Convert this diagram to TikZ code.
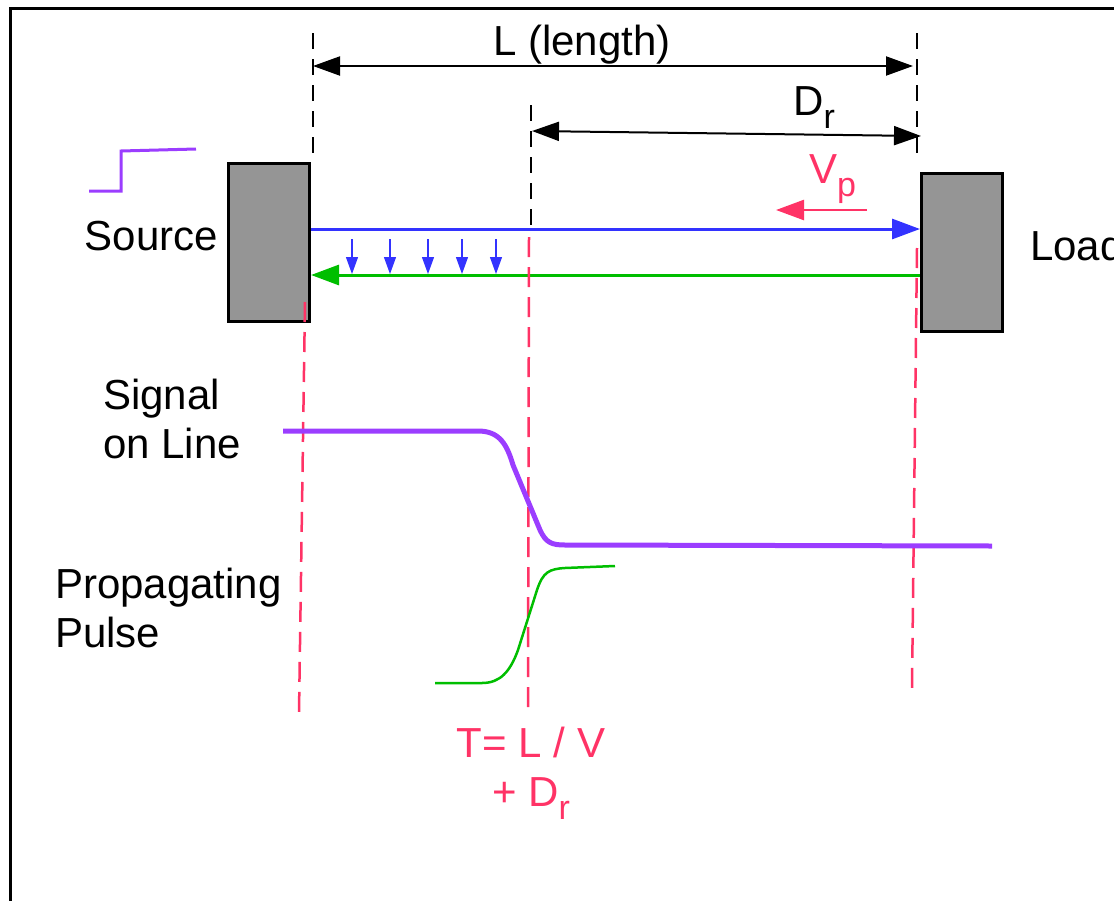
\documentclass[tikz,border=0pt]{standalone}
\usepackage{fontspec}
\setmainfont{Liberation Sans}
\usetikzlibrary{arrows.meta}

\definecolor{sigpurple}{RGB}{155,61,255}
\definecolor{tpink}{RGB}{255,51,102}
\definecolor{fwdblue}{RGB}{51,51,255}
\definecolor{retgreen}{RGB}{0,190,0}
\definecolor{boxgray}{RGB}{149,149,149}

\newcommand{\lowsub}[1]{\raisebox{-13pt}{\fontsize{34}{34}\selectfont #1}}

\tikzset{
    lbl/.style={inner sep=0pt, anchor=base west, font=\fontsize{42}{49}\selectfont},
    endbox/.style={draw=black, line width=3pt, fill=boxgray, inner sep=0pt,
        minimum width=81pt, minimum height=158pt},
    guide/.style={black, line width=2pt, dash pattern=on 16pt off 10pt},
    timeline/.style={tpink, line width=2.5pt, dash pattern=on 20pt off 10pt},
    dimarrow/.style={line width=2pt,
        {Triangle[length=27pt,width=19pt]}-{Triangle[length=27pt,width=19pt]}},
    wave/.style={-{Triangle[length=28pt,width=20pt]}, line width=3pt},
}

\begin{document}
\begin{tikzpicture}[x=1pt, y=-1pt]
    \clip (0,0) rectangle (1114,900);
    \draw[line width=3pt] (10,910) -- (10,8) -- (1125,8);

    % source and load
    \node[endbox] (src) at (269,242.5) {};
    \node[endbox] (load) at (962,252) {};
    \node[lbl, anchor=base east] (srclbl) at (218,250) {Source};
    \node[lbl] (loadlbl) at (1030,260) {Load};

    % input step
    \draw[sigpurple, line width=3pt] (89,191) -- (121,191) -- (121,151) -- (196,149);

    % dimension guides
    \coordinate (gL1) at (313,33);
    \coordinate (gL2) at (917,33);
    \coordinate (gD) at (531,105);
    \draw[guide] (gL1) -- (313,153);
    \draw[guide] (gD) -- (531,227);
    \draw[guide] (gL2) -- (917,153);

    \coordinate (L1) at (313,66);
    \coordinate (L2) at (913,66);
    \coordinate (D1) at (532,131);
    \coordinate (D2) at (921,136);
    \draw[dimarrow] (L1) -- (L2);
    \draw[dimarrow] (D1) -- (D2);
    \node[lbl] (llbl) at (493,55) {L (length)};
    \node[lbl] (dlbl) at (793,115) {D\lowsub{r}};

    % forward and reflected waves
    \coordinate (fwdy) at (0,229);
    \coordinate (rety) at (0,275);
    \draw[wave, fwdblue] (src.east |- fwdy) -- (load.west |- fwdy);
    \draw[wave, retgreen] (load.west |- rety) -- (src.east |- rety);
    \foreach \x in {352,390,428,462,496}
        \draw[fwdblue, line width=1.2pt, -{Triangle[length=17pt,width=12pt]}] (\x,239) -- (\x,274);

    \coordinate (vp1) at (867,210);
    \coordinate (vp2) at (776,210);
    \draw[tpink, line width=2.5pt, -{Triangle[length=28pt,width=20pt]}] (vp1) -- (vp2);
    \node[lbl, tpink] (vplbl) at (809,183) {V\lowsub{p}};

    % time marks
    \draw[timeline] (305,302) -- (299,713);
    \draw[timeline] (529,237) -- (528,712);
    \draw[timeline] (917,248) -- (912,688);

    % signal on line
    \draw[sigpurple, line width=5pt] (283,431) -- (478,431)
        .. controls (500,431) and (507,445) .. (513,465) -- (540,530)
        .. controls (546,543) and (552,545) .. (565,545) -- (992,546);

    % pulse
    \draw[retgreen, line width=2.5pt] (435,683) -- (482,683)
        .. controls (500,683) and (510,672) .. (518,650) -- (537,590)
        .. controls (543,572) and (549,569) .. (565,568) -- (615,566);

    \node[lbl, align=left] (siglbl) at (103,458) {Signal\\on Line};
    \node[lbl, align=left] (pulselbl) at (55,647) {Propagating\\Pulse};
    \node[lbl, anchor=base, align=center, tpink] (tlbl) at (531,806) {T= L / V\\+ D\lowsub{r}};
\end{tikzpicture}
\end{document}
